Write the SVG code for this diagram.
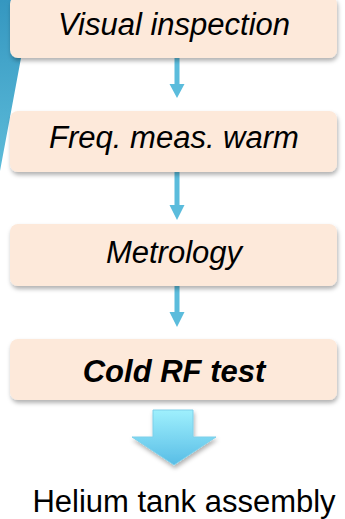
<svg xmlns="http://www.w3.org/2000/svg" width="345" height="519" viewBox="0 0 345 519">
<defs>
<filter id="sh" x="-10%" y="-20%" width="120%" height="150%">
<feDropShadow dx="1" dy="3" stdDeviation="2" flood-color="#000" flood-opacity="0.3"/>
</filter>
<linearGradient id="side" x1="0" y1="0" x2="0" y2="1">
<stop offset="0" stop-color="#3597c0"/>
<stop offset="1" stop-color="#5dbcda"/>
</linearGradient>
<linearGradient id="big" x1="0" y1="0" x2="0" y2="1">
<stop offset="0" stop-color="#9ff0fd"/>
<stop offset="1" stop-color="#58bde6"/>
</linearGradient>
<style>
.box{fill:#fde9da;filter:url(#sh)}
.t{font-family:"Liberation Sans",Arial,sans-serif;font-size:31px;font-style:italic;text-anchor:middle;fill:#000}
.t.n{font-style:normal}
.t.b{font-weight:bold}
.ar{fill:#5bbcdc}
</style>
</defs>
<polygon points="0,0 34,0 21,58 0,171" fill="url(#side)"/>
<g id="connectors">
<path class="ar" d="M174.5,58 H179.5 V84 H184.5 L177,98 L169.5,84 H174.5 Z"/>
<path class="ar" d="M174.5,172 H179.5 V205 H184.5 L177,220 L169.5,205 H174.5 Z"/>
<path class="ar" d="M174.5,286 H179.5 V312 H184.5 L177,327 L169.5,312 H174.5 Z"/>
<path d="M153,410 H193 V437 H216 L174,465 L132,437 H153 Z" fill="url(#big)" stroke="#7fd0ea" stroke-width="1" filter="url(#sh)"/>
</g>
<g id="n1"><rect class="box" x="10" y="-4" width="327" height="62" rx="8"/><text class="t" x="174" y="35">Visual inspection</text></g>
<g id="n2"><rect class="box" x="10" y="111" width="327" height="61" rx="8"/><text class="t" x="174" y="148">Freq. meas. warm</text></g>
<g id="n3"><rect class="box" x="10" y="224" width="327" height="62" rx="8"/><text class="t" x="174" y="263">Metrology</text></g>
<g id="n4"><rect class="box" x="10" y="339" width="327" height="61" rx="8"/><text class="t b" x="174" y="382">Cold RF test</text></g>
<g id="n5"><text class="t n" x="184" y="512">Helium tank assembly</text></g>
</svg>
